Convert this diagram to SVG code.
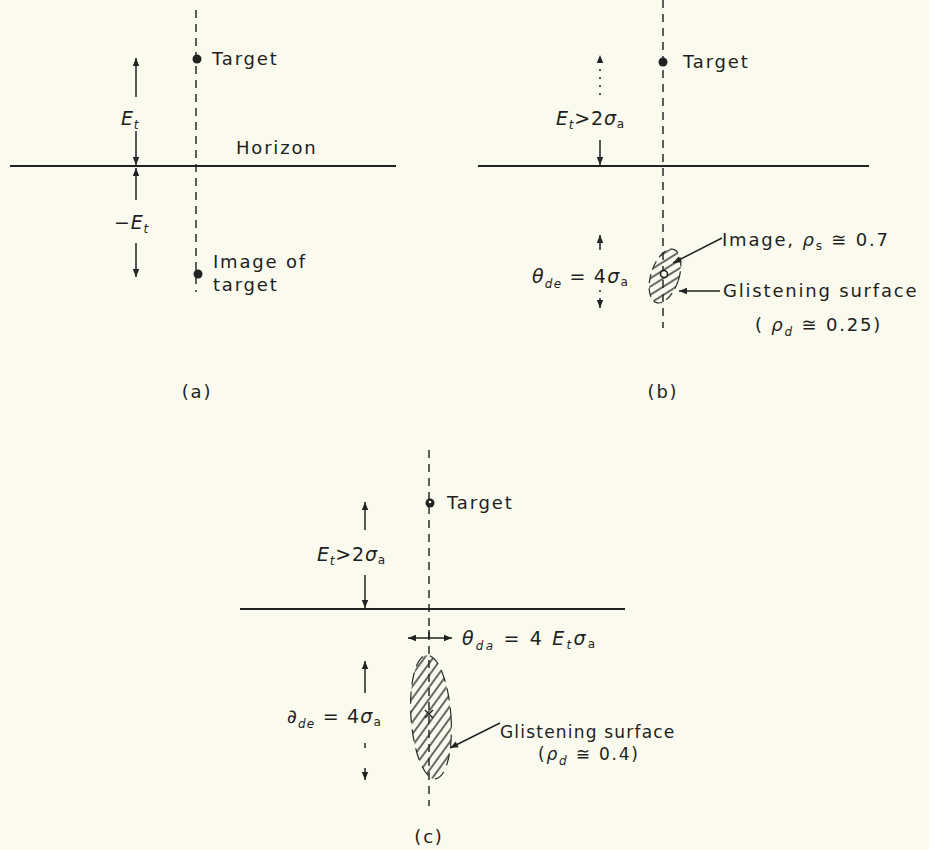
<svg xmlns="http://www.w3.org/2000/svg" width="929" height="850" viewBox="0 0 929 850">
<style>
text{font-family:"DejaVu Sans","Liberation Sans",sans-serif;fill:#1e1e1e;font-size:18px;letter-spacing:1.8px}
.m{font-size:19px;letter-spacing:0.8px}
.i{font-style:italic}
.s{font-size:12px}
.axis{stroke:#2a2a2a;stroke-width:1.5;stroke-dasharray:8 6;fill:none}
.hz{stroke:#222;stroke-width:2;fill:none}
.ar{stroke:#222;stroke-width:1.5;fill:none}
.dot{stroke:#222;stroke-width:1.5;stroke-dasharray:2 6;fill:none}
.pt{fill:#222}
</style>
<defs>
<marker id="ah" viewBox="0 0 10 10" refX="10" refY="5" markerWidth="11" markerHeight="8" markerUnits="userSpaceOnUse" orient="auto-start-reverse">
<path d="M0,1 L10,5 L0,9 z" fill="#222"/>
</marker>
<pattern id="hatch" width="7" height="7" patternUnits="userSpaceOnUse" patternTransform="rotate(40)">
<line x1="2" y1="0" x2="2" y2="7" stroke="#2a2a2a" stroke-width="1.4"/>
</pattern>
</defs>
<rect width="929" height="850" fill="#fafaee"/>

<!-- Panel (a) -->
<g id="panel-a">
<line class="axis" x1="196" y1="10" x2="196" y2="292"/>
<line class="hz" x1="10" y1="166" x2="396" y2="166"/>
<text x="236" y="154">Horizon</text>
<g id="a-target"><circle class="pt" cx="197" cy="59" r="4.5"/><text x="212" y="65">Target</text></g>
<g id="a-image"><circle class="pt" cx="198" cy="274" r="4.5"/><text x="213" y="268">Image of</text><text x="213" y="291">target</text></g>
<text class="m" x="121" y="125"><tspan class="i">E</tspan><tspan class="s i" dy="4">t</tspan></text>
<text class="m" x="114" y="229">−<tspan class="i">E</tspan><tspan class="s i" dy="4">t</tspan></text>
<text x="197" y="398" text-anchor="middle">(a)</text>
</g>

<!-- Panel (b) -->
<g id="panel-b">
<line class="axis" x1="663" y1="0" x2="663" y2="328"/>
<line class="hz" x1="478" y1="166" x2="869" y2="166"/>
<g id="b-target"><circle class="pt" cx="663" cy="62" r="4.5"/><text x="683" y="68">Target</text></g>
<g id="b-surface">
<ellipse cx="665" cy="276" rx="14" ry="28" transform="rotate(18 665 276)" fill="url(#hatch)" stroke="#2a2a2a" stroke-width="1.2" stroke-dasharray="9 5"/>
<circle cx="664" cy="274" r="3.5" fill="#fafaee" stroke="#222" stroke-width="1.6"/>
</g>
<text class="m" x="556" y="125"><tspan class="i">E</tspan><tspan class="s i" dy="4">t</tspan><tspan dy="-4">&gt;2</tspan><tspan class="i">σ</tspan><tspan class="s" dy="3">a</tspan></text>
<text class="m" x="532" y="283" style="letter-spacing:1.2px"><tspan class="i">θ</tspan><tspan class="s i" dy="5">de</tspan><tspan dy="-5"> = 4</tspan><tspan class="i">σ</tspan><tspan class="s" dy="3">a</tspan></text>
<text x="722" y="246">Image, <tspan class="i">ρ</tspan><tspan class="s" dy="4">s</tspan><tspan dy="-4"> ≅ 0.7</tspan></text>
<text x="723" y="297">Glistening surface</text>
<text x="755" y="331">( <tspan class="i">ρ</tspan><tspan class="s i" dy="5">d</tspan><tspan dy="-5"> ≅ 0.25)</tspan></text>
<text x="663" y="398" text-anchor="middle">(b)</text>
</g>

<!-- Panel (c) -->
<g id="panel-c">
<line class="axis" x1="429" y1="450" x2="429" y2="806"/>
<line class="hz" x1="240" y1="609" x2="625" y2="609"/>
<g id="c-target"><circle class="pt" cx="430" cy="503" r="4.5"/><circle cx="430" cy="502" r="1.3" fill="#fafaee"/><text x="447" y="509">Target</text></g>
<g id="c-surface">
<ellipse cx="431" cy="717" rx="20" ry="62" transform="rotate(-4 431 717)" fill="url(#hatch)" stroke="#2a2a2a" stroke-width="1.2" stroke-dasharray="12 7"/>
<path d="M425,710 L433,718 M433,710 L425,718" stroke="#222" stroke-width="1.4"/>
</g>
<text class="m" x="317" y="561"><tspan class="i">E</tspan><tspan class="s i" dy="4">t</tspan><tspan dy="-4">&gt;2</tspan><tspan class="i">σ</tspan><tspan class="s" dy="3">a</tspan></text>
<text class="m" x="462" y="645" style="letter-spacing:2.2px"><tspan class="i">θ</tspan><tspan class="s i" dy="5">da</tspan><tspan dy="-5"> = 4 </tspan><tspan class="i">E</tspan><tspan class="s i" dy="4">t</tspan><tspan class="i" dy="-4">σ</tspan><tspan class="s" dy="3">a</tspan></text>
<text class="m" x="287" y="723" style="letter-spacing:1.2px"><tspan class="i">∂</tspan><tspan class="s i" dy="5">de</tspan><tspan dy="-5"> = 4</tspan><tspan class="i">σ</tspan><tspan class="s" dy="3">a</tspan></text>
<text x="500" y="738" style="letter-spacing:1.2px;font-size:17px">Glistening surface</text>
<text x="538" y="760" style="font-size:17px">(<tspan class="i">ρ</tspan><tspan class="s i" dy="5">d</tspan><tspan dy="-5"> ≅ 0.4)</tspan></text>
<text x="429" y="843" text-anchor="middle">(c)</text>
</g>

<!-- Connectors / dimension arrows -->
<g id="connectors">
<line class="ar" x1="136" y1="97" x2="136" y2="58" marker-end="url(#ah)"/>
<line class="ar" x1="136" y1="131" x2="136" y2="165" marker-end="url(#ah)"/>
<line class="ar" x1="136" y1="200" x2="136" y2="168" marker-end="url(#ah)"/>
<line class="ar" x1="136" y1="243" x2="136" y2="277" marker-end="url(#ah)"/>

<line class="dot" x1="600" y1="95" x2="600" y2="55" marker-end="url(#ah)"/>
<line class="ar" x1="600" y1="140" x2="600" y2="165" marker-end="url(#ah)"/>
<line class="ar" x1="600" y1="250" x2="600" y2="235" marker-end="url(#ah)"/>
<line class="dot" x1="600" y1="290" x2="600" y2="308" marker-end="url(#ah)"/>
<line class="ar" x1="722" y1="238" x2="673" y2="263" marker-end="url(#ah)"/>
<line class="ar" x1="720" y1="291" x2="679" y2="291" marker-end="url(#ah)"/>

<line class="ar" x1="365" y1="530" x2="365" y2="502" marker-end="url(#ah)"/>
<line class="ar" x1="365" y1="575" x2="365" y2="608" marker-end="url(#ah)"/>
<line class="ar" x1="408" y1="638" x2="452" y2="638" marker-start="url(#ah)" marker-end="url(#ah)"/>
<line class="ar" x1="429" y1="630" x2="429" y2="638"/>
<line class="ar" x1="365" y1="693" x2="365" y2="661" marker-end="url(#ah)"/>
<line class="ar" x1="365" y1="743" x2="365" y2="748"/>
<line class="ar" x1="365" y1="768" x2="365" y2="780" marker-end="url(#ah)"/>
<line class="ar" x1="500" y1="723" x2="450" y2="748" marker-end="url(#ah)"/>
</g>
</svg>
